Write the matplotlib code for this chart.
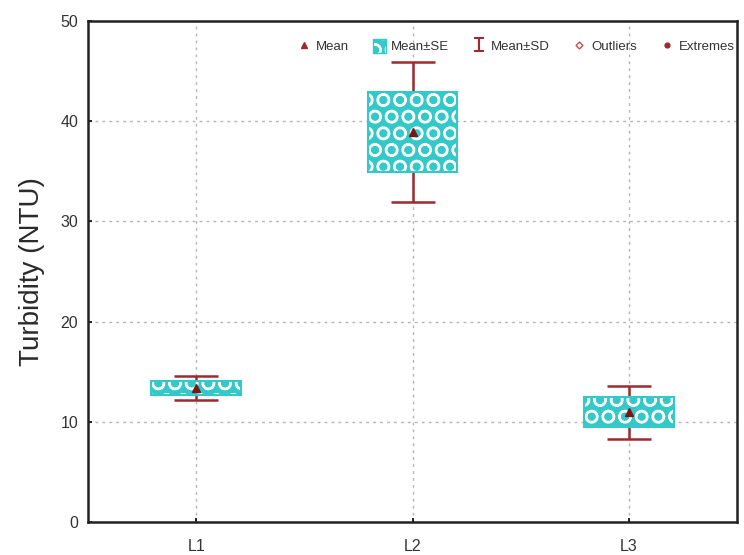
import numpy as np
import matplotlib
matplotlib.use('Agg')
import matplotlib.pyplot as plt
from matplotlib.lines import Line2D
from matplotlib.patches import Patch

plt.rcParams['font.family'] = ['Liberation Sans', 'DejaVu Sans']
plt.rcParams['hatch.linewidth'] = 1.6

# values
sites = ['L1', 'L2', 'L3']
means = [13.35, 38.9, 10.95]
se = [0.72, 4.0, 1.5]
sd = [1.2, 7.0, 2.65]

teal = '#33C9C9'
red = '#9E2A2F'

fig = plt.figure(figsize=(7.44, 5.55), dpi=100)
ax = fig.add_axes([88 / 744, 33 / 555, 649 / 744, 501 / 555])

x = np.arange(1, len(sites) + 1)
lo = np.array(means) - np.array(se)

# whiskers (mean +- sd)
ax.errorbar(x, means, yerr=sd, fmt='none', ecolor=red, elinewidth=1.8,
            capsize=15.5, capthick=1.8, zorder=2)

# boxes (mean +- se), hatched with white circles
ax.bar(x, 2 * np.array(se), bottom=lo, width=0.415, color=teal,
       edgecolor='white', hatch='O', linewidth=0, zorder=3)
ax.bar(x, 2 * np.array(se), bottom=lo, width=0.415, fill=False,
       edgecolor=teal, linewidth=1.5, zorder=4)

ax.plot(x, means, linestyle='none', marker='^', color='#7A1518', markersize=6, zorder=5)

ax.set_xlim(0.5, 3.5)
ax.set_ylim(0, 50)
ax.set_xticks(x)
ax.set_xticklabels(sites)
ax.set_yticks(range(0, 51, 10))
ax.grid(True, color='#B5B5B5', linestyle=(0, (2, 3)), linewidth=1)
ax.set_axisbelow(True)
ax.tick_params(direction='in', length=3, width=1.2, labelsize=11.5,
               labelcolor='#333333')
ax.tick_params(axis='y', pad=7)
ax.tick_params(axis='x', pad=12)
for s in ax.spines.values():
    s.set_linewidth(1.8)
    s.set_color('#222222')

ax.set_ylabel('Turbidity (NTU)', fontsize=20, color='#2a2a2a')
ax.yaxis.set_label_coords(-0.066, 0.5)

# legend handles
h_mean = Line2D([], [], linestyle='none', marker='^', color=red, markersize=4)
h_se1 = Patch(facecolor=teal, edgecolor='white', hatch='O', linewidth=0)
h_se2 = Patch(fill=False, edgecolor=teal, linewidth=1)
h_sd = ax.errorbar([np.nan], [np.nan], yerr=[1], fmt='none', ecolor=red,
                   elinewidth=1.5, capsize=3.5, capthick=1.5)
h_out = Line2D([], [], linestyle='none', marker='D', markerfacecolor='white',
               markeredgecolor='#C0504D', markersize=3.5)
h_ext = Line2D([], [], linestyle='none', marker='o', color=red, markersize=3.5)

fig.legend([h_mean, (h_se1, h_se2), h_sd, h_out, h_ext],
           ['Mean', 'Mean±SE', 'Mean±SD', 'Outliers', 'Extremes'],
           loc='upper left', bbox_to_anchor=(286 / 744, 1 - 27 / 555),
           ncol=5, frameon=False, fontsize=9.5, handlelength=1.0,
           handleheight=1.3, handletextpad=0.4, columnspacing=1.75,
           labelcolor='#333333')

fig.savefig('out.png', dpi=100)
